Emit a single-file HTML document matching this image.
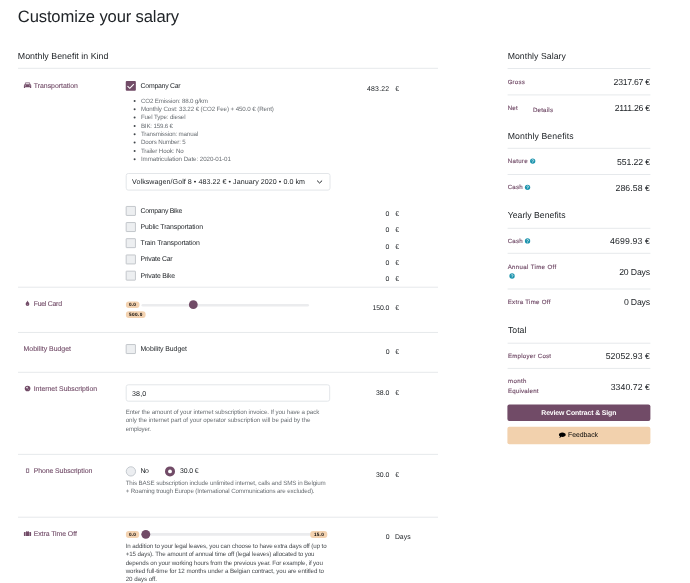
<!DOCTYPE html>
<html><head><meta charset="utf-8"><title>Customize your salary</title>
<style>
*{box-sizing:border-box;margin:0;padding:0}
html,body{width:690px;height:583px;overflow:hidden;background:#fff}
body{font-family:"Liberation Sans",sans-serif;color:#212529;position:relative;-webkit-font-smoothing:antialiased;text-rendering:geometricPrecision}
.a{position:absolute;white-space:pre;line-height:1}
.hr{position:absolute;height:1px;background:#eaecee}
.cb{position:absolute;width:10px;height:9.7px;border:0.7px solid #c2c7cc;background:#eceef1;border-radius:0.6px}
.bd{position:absolute;background:#f3d2b0;border-radius:3px}
.tr{position:absolute;height:2.7px;background:#ebecee;border-radius:1.3px}
.th{position:absolute;width:9px;height:9px;border-radius:50%;background:#714B67}
.q{position:absolute;width:5.2px;height:5.2px;border-radius:50%;background:#1a9bb8;color:#fff;font-size:4.4px;font-weight:700;line-height:5.4px;text-align:center}
</style></head><body>
<div id="w" style="position:absolute;left:0;top:0;width:690px;height:583px;will-change:transform">
<svg style="position:absolute;left:0;top:0" width="690" height="583" viewBox="0 0 690 583">
<rect x="18" y="67.80" width="420" height="1" fill="#e6e9ec"/>
<rect x="18" y="286.70" width="420" height="1" fill="#e6e9ec"/>
<rect x="18" y="331.95" width="420" height="1" fill="#e6e9ec"/>
<rect x="18" y="371.80" width="420" height="1" fill="#e6e9ec"/>
<rect x="18" y="453.85" width="420" height="1" fill="#e6e9ec"/>
<rect x="18" y="516.70" width="420" height="1" fill="#e6e9ec"/>
<rect x="507.6" y="68.00" width="142.8" height="1" fill="#e6e9ec"/>
<rect x="507.6" y="94.40" width="142.8" height="1" fill="#e6e9ec"/>
<rect x="507.6" y="147.80" width="142.8" height="1" fill="#e6e9ec"/>
<rect x="507.6" y="174.00" width="142.8" height="1" fill="#e6e9ec"/>
<rect x="507.6" y="227.80" width="142.8" height="1" fill="#e6e9ec"/>
<rect x="507.6" y="252.80" width="142.8" height="1" fill="#e6e9ec"/>
<rect x="507.6" y="288.50" width="142.8" height="1" fill="#e6e9ec"/>
<rect x="507.6" y="342.70" width="142.8" height="1" fill="#e6e9ec"/>
<rect x="507.6" y="367.90" width="142.8" height="1" fill="#e6e9ec"/>
<circle cx="134.6" cy="100.95" r="1" fill="#41464b"/>
<circle cx="134.6" cy="109.28" r="1" fill="#41464b"/>
<circle cx="134.6" cy="117.61" r="1" fill="#41464b"/>
<circle cx="134.6" cy="125.94" r="1" fill="#41464b"/>
<circle cx="134.6" cy="134.27" r="1" fill="#41464b"/>
<circle cx="134.6" cy="142.60" r="1" fill="#41464b"/>
<circle cx="134.6" cy="150.93" r="1" fill="#41464b"/>
<circle cx="134.6" cy="159.26" r="1" fill="#41464b"/>
<rect x="126.2" y="173.5" width="203.8" height="16.6" rx="2" fill="#fff" stroke="#e3e6e9" stroke-width="1"/>
<rect x="126.2" y="384.8" width="203.5" height="16.4" rx="2" fill="#fff" stroke="#e3e6e9" stroke-width="1"/>
<rect x="126.15" y="206.45" width="9.3" height="9" rx=".4" fill="#edeff1" stroke="#b3b8bd" stroke-width=".75"/>
<rect x="126.15" y="222.55" width="9.3" height="9" rx=".4" fill="#edeff1" stroke="#b3b8bd" stroke-width=".75"/>
<rect x="126.15" y="238.65" width="9.3" height="9" rx=".4" fill="#edeff1" stroke="#b3b8bd" stroke-width=".75"/>
<rect x="126.15" y="254.95" width="9.3" height="9" rx=".4" fill="#edeff1" stroke="#b3b8bd" stroke-width=".75"/>
<rect x="126.15" y="271.15" width="9.3" height="9" rx=".4" fill="#edeff1" stroke="#b3b8bd" stroke-width=".75"/>
<rect x="126.15" y="344.55" width="9.3" height="9" rx=".4" fill="#edeff1" stroke="#b3b8bd" stroke-width=".75"/>
<rect x="141.5" y="303.9" width="167.5" height="2.7" rx="1.35" fill="#ebecee"/>
<rect x="125.9" y="301.5" width="13.6" height="6.5" rx="3" fill="#f3d2b0"/>
<rect x="125.9" y="311.3" width="19.7" height="6.8" rx="3" fill="#f3d2b0"/>
<rect x="141" y="533.1" width="170" height="2.7" rx="1.35" fill="#ebecee"/>
<rect x="125.9" y="531" width="13.3" height="7" rx="3" fill="#f3d2b0"/>
<rect x="310.2" y="531" width="17.1" height="7" rx="3" fill="#f3d2b0"/>
<rect x="507.400" y="404.600" width="143" height="16.500" rx="2" fill="#714B67"/><rect x="507.400" y="426.800" width="143" height="17.400" rx="2" fill="#f2d1ad"/>
<path d="M317.400 180.900 319.600 183 321.800 180.900" stroke="#212529" stroke-width="1" stroke-linecap="round" stroke-linejoin="round" fill="none"/>
<g transform="translate(187.000 299.000) scale(1.0000 1.0000) translate(-187 -299)"><circle cx="193.300" cy="304.700" r="4.400" fill="#714B67"/></g>
<g transform="translate(124.000 465.000) scale(1.0000 1.0000) translate(-124 -465)"><circle cx="130.900" cy="471.400" r="4.650" fill="#eceef1" stroke="#b9bfc5" stroke-width=".8"/><circle cx="170" cy="471.400" r="5" fill="#714B67"/><circle cx="170" cy="471.400" r="1.900" fill="#fff"/></g>
<g transform="translate(140.000 528.000) scale(1.0000 1.0000) translate(-140 -528)"><circle cx="145.800" cy="534.350" r="4.450" fill="#714B67"/></g>
<g transform="translate(528.700 157.050) scale(1.0000 1.0000) translate(4 4)"><circle r="2.650" fill="#1b93ad"/><path d="M-.85 -.65A.9.900 0 1 1 0 .35V.75" stroke="#fff" stroke-width=".6" fill="none"/><circle cy="1.500" r=".36" fill="#fff"/></g>
<g transform="translate(523.550 183.300) scale(1.0000 1.0000) translate(4 4)"><circle r="2.650" fill="#1b93ad"/><path d="M-.85 -.65A.9.900 0 1 1 0 .35V.75" stroke="#fff" stroke-width=".6" fill="none"/><circle cy="1.500" r=".36" fill="#fff"/></g>
<g transform="translate(523.550 236.900) scale(1.0000 1.0000) translate(4 4)"><circle r="2.650" fill="#1b93ad"/><path d="M-.85 -.65A.9.900 0 1 1 0 .35V.75" stroke="#fff" stroke-width=".6" fill="none"/><circle cy="1.500" r=".36" fill="#fff"/></g>
<g transform="translate(508.050 272.000) scale(1.0000 1.0000) translate(4 4)"><circle r="2.650" fill="#1b93ad"/><path d="M-.85 -.65A.9.900 0 1 1 0 .35V.75" stroke="#fff" stroke-width=".6" fill="none"/><circle cy="1.500" r=".36" fill="#fff"/></g>
<g transform="translate(23.900 82.200) scale(0.4867 0.4750) translate(-0 -0)"><path fill="#714B67" d="M3 0.500h9l1.600 4.200c.8.300 1.400 1 1.400 2V12h-2.400v-1.500H2.400V12H0V6.700c0-1 .6-1.700 1.400-2zM3.900 2 3 4.500h9L11.100 2zM2.600 6.200a1 1 0 100 2.100 1 1 0 000-2.100zm9.800 0a1 1 0 100 2.100 1 1 0 000-2.100z"/></g>
<g transform="translate(25.650 300.600) scale(0.4625 0.4417) translate(-0 -0)"><path fill="#714B67" d="M4 0C4.800 3 8 4.800 8 8a4 4 0 01-8 0C0 4.800 3.200 3 4 0z"/><path fill="#b79fb0" d="M4 7.600C3.500 8.400 3 8.900 3 9.700a1 1 0 002 0C5 8.900 4.500 8.400 4 7.600z"/></g>
<g transform="translate(24.200 385.100) scale(0.5600 0.5600) translate(1 1)"><circle cx="5" cy="5" r="5" fill="#714B67"/><path fill="#fff" d="M2.400 2.800 4.400 1.800 5.800 2.600 5.200 3.600 5.600 4.600 4.400 5.200 3.200 4.600 2.200 4z" opacity=".85"/><path fill="#fff" d="M6 5.800 7.600 5.600 7.800 6.800 6.800 7.800z" opacity=".45"/></g>
<g transform="translate(25.900 468.500) scale(1.0000 1.0000) translate(-0 -0)"><rect x=".4" y=".4" width="2.500" height="3.600" fill="none" stroke="#664460" stroke-width=".65"/></g>
<g transform="translate(23.900 530.900) scale(0.5143 0.5200) translate(-0 -0)"><path fill="#714B67" d="M5 0h4a.8.800 0 01.8.800V2H11V10H3V2H4.200V.8A.8.800 0 015 0zM5.200 1V2H8.800V1zM0 3A1 1 0 011 2H2.200V10H1A1 1 0 010 9zM11.800 2H13A1 1 0 0114 3V9A1 1 0 0113 10H11.800z"/></g>
<g transform="translate(558.900 432.400) scale(0.4857 0.5000) translate(-0 -0)"><path fill="#000" d="M7 0C10.900 0 14 2 14 4.500S10.900 9 7 9C6.200 9 5.500 8.900 4.800 8.800 3.800 9.800 2.400 10.600.8 11 1.600 10 2.100 9 2.200 7.900.8 7.100 0 5.900 0 4.500 0 2 3.100 0 7 0z"/></g>
<rect x="125.750" y="81.100" width="10.100" height="9.700" rx="1" fill="#714B67"/><path d="M127.500 86.200 129.800 88.300 133.800 84.100" stroke="#fff" stroke-width="1.100" fill="none"/>
</svg>

<div class="a" style="left:17.80px;top:8.80px;font-size:16.6px;color:#212529;letter-spacing:-0.139px">Customize your salary</div>
<div class="a" style="left:17.80px;top:52.00px;font-size:8.8px;color:#212529;letter-spacing:0.027px">Monthly Benefit in Kind</div>
<div class="a" style="left:33.80px;top:83.70px;font-size:6.9px;color:#714B67;letter-spacing:-0.014px;-webkit-text-stroke:0.1px #714B67">Transportation</div>
<div class="a" style="left:33.70px;top:301.90px;font-size:6.9px;color:#714B67;letter-spacing:-0.243px;-webkit-text-stroke:0.1px #714B67">Fuel Card</div>
<div class="a" style="left:23.60px;top:347.30px;font-size:6.9px;color:#714B67;letter-spacing:0.019px;-webkit-text-stroke:0.1px #714B67">Mobility Budget</div>
<div class="a" style="left:33.70px;top:386.90px;font-size:6.9px;color:#714B67;letter-spacing:0.010px;-webkit-text-stroke:0.1px #714B67">Internet Subscription</div>
<div class="a" style="left:33.70px;top:469.00px;font-size:6.9px;color:#714B67;letter-spacing:-0.072px;-webkit-text-stroke:0.1px #714B67">Phone Subscription</div>
<div class="a" style="left:33.70px;top:532.10px;font-size:6.9px;color:#714B67;letter-spacing:-0.061px;-webkit-text-stroke:0.1px #714B67">Extra Time Off</div>
<div class="a" style="left:140.60px;top:84.00px;font-size:6.9px;color:#212529;letter-spacing:-0.249px">Company Car</div>
<div class="a" style="left:140.90px;top:98.70px;font-size:6.2px;color:#6a6f74;letter-spacing:-0.140px">CO2 Emission: 88.0 g/km</div>
<div class="a" style="left:140.90px;top:107.03px;font-size:6.2px;color:#6a6f74;letter-spacing:-0.100px">Monthly Cost: 33.22 € (CO2 Fee) + 450.0 € (Rent)</div>
<div class="a" style="left:140.90px;top:115.36px;font-size:6.2px;color:#6a6f74;letter-spacing:-0.126px">Fuel Type: diesel</div>
<div class="a" style="left:140.90px;top:123.69px;font-size:6.2px;color:#6a6f74;letter-spacing:-0.171px">BIK: 159.6 €</div>
<div class="a" style="left:140.90px;top:132.02px;font-size:6.2px;color:#6a6f74;letter-spacing:-0.164px">Transmission: manual</div>
<div class="a" style="left:140.90px;top:140.35px;font-size:6.2px;color:#6a6f74;letter-spacing:-0.160px">Doors Number: 5</div>
<div class="a" style="left:140.90px;top:148.68px;font-size:6.2px;color:#6a6f74;letter-spacing:-0.131px">Trailer Hook: No</div>
<div class="a" style="left:140.90px;top:157.01px;font-size:6.2px;color:#6a6f74;letter-spacing:-0.058px">Immatriculation Date: 2020-01-01</div>
<div class="a" style="left:132.10px;top:178.80px;font-size:7.1px;color:#212529;letter-spacing:0.058px">Volkswagen/Golf 8 • 483.22 € • January 2020 • 0.0 km</div>
<div class="a" style="left:140.60px;top:208.80px;font-size:6.9px;color:#212529;letter-spacing:-0.288px">Company Bike</div>
<div class="a" style="left:385.60px;top:212.10px;font-size:6.9px;color:#212529;letter-spacing:0.000px">0</div>
<div class="a" style="left:395.20px;top:212.10px;font-size:6.9px;color:#212529;letter-spacing:0.000px">€</div>
<div class="a" style="left:140.60px;top:225.00px;font-size:6.9px;color:#212529;letter-spacing:-0.114px">Public Transportation</div>
<div class="a" style="left:385.60px;top:228.37px;font-size:6.9px;color:#212529;letter-spacing:0.000px">0</div>
<div class="a" style="left:395.20px;top:228.37px;font-size:6.9px;color:#212529;letter-spacing:0.000px">€</div>
<div class="a" style="left:140.60px;top:241.20px;font-size:6.9px;color:#212529;letter-spacing:-0.113px">Train Transportation</div>
<div class="a" style="left:385.60px;top:244.64px;font-size:6.9px;color:#212529;letter-spacing:0.000px">0</div>
<div class="a" style="left:395.20px;top:244.64px;font-size:6.9px;color:#212529;letter-spacing:0.000px">€</div>
<div class="a" style="left:140.60px;top:257.40px;font-size:6.9px;color:#212529;letter-spacing:-0.245px">Private Car</div>
<div class="a" style="left:385.60px;top:260.91px;font-size:6.9px;color:#212529;letter-spacing:0.000px">0</div>
<div class="a" style="left:395.20px;top:260.91px;font-size:6.9px;color:#212529;letter-spacing:0.000px">€</div>
<div class="a" style="left:140.60px;top:273.60px;font-size:6.9px;color:#212529;letter-spacing:-0.214px">Private Bike</div>
<div class="a" style="left:385.60px;top:277.18px;font-size:6.9px;color:#212529;letter-spacing:0.000px">0</div>
<div class="a" style="left:395.20px;top:277.18px;font-size:6.9px;color:#212529;letter-spacing:0.000px">€</div>
<div class="a" style="left:367.00px;top:86.70px;font-size:6.9px;color:#212529;letter-spacing:0.222px">483.22</div>
<div class="a" style="left:395.20px;top:86.70px;font-size:6.9px;color:#212529;letter-spacing:0.000px">€</div>
<div class="a" style="left:372.50px;top:306.00px;font-size:6.9px;color:#212529;letter-spacing:-0.078px">150.0</div>
<div class="a" style="left:395.20px;top:306.00px;font-size:6.9px;color:#212529;letter-spacing:0.000px">€</div>
<div class="a" style="left:385.70px;top:350.00px;font-size:6.9px;color:#212529;letter-spacing:0.000px">0</div>
<div class="a" style="left:395.20px;top:350.00px;font-size:6.9px;color:#212529;letter-spacing:0.000px">€</div>
<div class="a" style="left:376.00px;top:390.50px;font-size:6.9px;color:#212529;letter-spacing:-0.006px">38.0</div>
<div class="a" style="left:395.20px;top:390.50px;font-size:6.9px;color:#212529;letter-spacing:0.000px">€</div>
<div class="a" style="left:376.00px;top:473.00px;font-size:6.9px;color:#212529;letter-spacing:-0.006px">30.0</div>
<div class="a" style="left:395.20px;top:473.00px;font-size:6.9px;color:#212529;letter-spacing:0.000px">€</div>
<div class="a" style="left:385.70px;top:535.20px;font-size:6.9px;color:#212529;letter-spacing:0.000px">0</div>
<div class="a" style="left:394.90px;top:535.20px;font-size:6.9px;color:#212529;letter-spacing:-0.001px">Days</div>
<div class="a" style="left:140.40px;top:347.30px;font-size:6.9px;color:#212529;letter-spacing:-0.043px">Mobility Budget</div>
<div class="a" style="left:132.10px;top:390.80px;font-size:7.1px;color:#212529;letter-spacing:0.082px">38,0</div>
<div class="a" style="left:125.70px;top:409.90px;font-size:6.2px;color:#6a6f74;letter-spacing:-0.085px">Enter the amount of your internet subscription invoice. If you have a pack</div>
<div class="a" style="left:125.70px;top:418.20px;font-size:6.2px;color:#6a6f74;letter-spacing:-0.039px">only the internet part of your operator subscription will be paid by the</div>
<div class="a" style="left:125.70px;top:426.60px;font-size:6.2px;color:#6a6f74;letter-spacing:-0.192px">employer.</div>
<div class="a" style="left:140.40px;top:469.00px;font-size:6.9px;color:#212529;letter-spacing:-0.475px">No</div>
<div class="a" style="left:180.00px;top:469.00px;font-size:6.9px;color:#212529;letter-spacing:-0.140px">30.0 €</div>
<div class="a" style="left:125.70px;top:480.60px;font-size:6.2px;color:#6a6f74;letter-spacing:-0.113px">This BASE subscription include unlimited internet, calls and SMS in Belgium</div>
<div class="a" style="left:125.70px;top:488.70px;font-size:6.2px;color:#6a6f74;letter-spacing:-0.130px">+ Roaming trough Europe (International Communications are excluded).</div>
<div class="a" style="left:125.70px;top:543.65px;font-size:6.2px;color:#484c50;letter-spacing:-0.100px">In addition to your legal leaves, you can choose to have extra days off (up to</div>
<div class="a" style="left:125.70px;top:552.10px;font-size:6.2px;color:#484c50;letter-spacing:-0.106px">+15 days). The amount of annual time off (legal leaves) allocated to you</div>
<div class="a" style="left:125.70px;top:560.55px;font-size:6.2px;color:#484c50;letter-spacing:-0.113px">depends on your working hours from the previous year. For example, if you</div>
<div class="a" style="left:125.70px;top:569.00px;font-size:6.2px;color:#484c50;letter-spacing:-0.079px">worked full-time for 12 months under a Belgian contract, you are entitled to</div>
<div class="a" style="left:125.70px;top:577.45px;font-size:6.2px;color:#484c50;letter-spacing:-0.051px">20 days off.</div>
<div class="a" style="left:129.00px;top:303.40px;font-size:4.7px;color:#000;font-weight:700;letter-spacing:0.108px">0.0</div>
<div class="a" style="left:129.00px;top:313.40px;font-size:4.7px;color:#000;font-weight:700;letter-spacing:0.415px">500.0</div>
<div class="a" style="left:129.00px;top:533.10px;font-size:4.7px;color:#000;font-weight:700;letter-spacing:0.108px">0.0</div>
<div class="a" style="left:313.90px;top:533.10px;font-size:4.7px;color:#000;font-weight:700;letter-spacing:0.250px">15.0</div>
<div class="a" style="left:507.70px;top:52.00px;font-size:8.7px;color:#212529;letter-spacing:0.054px">Monthly Salary</div>
<div class="a" style="left:507.70px;top:79.60px;font-size:6.1px;color:#714B67;letter-spacing:0.185px;-webkit-text-stroke:0.14px #714B67">Gross</div>
<div class="a" style="left:613.60px;top:78.20px;font-size:8.7px;color:#212529;letter-spacing:-0.265px">2317.67 €</div>
<div class="a" style="left:507.70px;top:105.60px;font-size:6.1px;color:#714B67;letter-spacing:0.286px;-webkit-text-stroke:0.14px #714B67">Net</div>
<div class="a" style="left:532.90px;top:108.00px;font-size:6.1px;color:#714B67;letter-spacing:0.240px;-webkit-text-stroke:0.14px #714B67">Details</div>
<div class="a" style="left:614.80px;top:104.20px;font-size:8.7px;color:#212529;letter-spacing:-0.254px">2111.26 €</div>
<div class="a" style="left:507.70px;top:132.20px;font-size:8.7px;color:#212529;letter-spacing:0.114px">Monthly Benefits</div>
<div class="a" style="left:507.70px;top:159.40px;font-size:6.1px;color:#714B67;letter-spacing:0.328px;-webkit-text-stroke:0.14px #714B67">Nature</div>
<div class="a" style="left:617.10px;top:158.00px;font-size:8.7px;color:#212529;letter-spacing:-0.124px">551.22 €</div>
<div class="a" style="left:507.70px;top:185.40px;font-size:6.1px;color:#714B67;letter-spacing:0.219px;-webkit-text-stroke:0.14px #714B67">Cash</div>
<div class="a" style="left:615.50px;top:183.50px;font-size:8.7px;color:#212529;letter-spacing:0.090px">286.58 €</div>
<div class="a" style="left:507.70px;top:211.20px;font-size:8.7px;color:#212529;letter-spacing:0.018px">Yearly Benefits</div>
<div class="a" style="left:507.70px;top:238.90px;font-size:6.1px;color:#714B67;letter-spacing:0.219px;-webkit-text-stroke:0.14px #714B67">Cash</div>
<div class="a" style="left:609.90px;top:236.90px;font-size:8.7px;color:#212529;letter-spacing:0.170px">4699.93 €</div>
<div class="a" style="left:507.70px;top:264.60px;font-size:6.1px;color:#714B67;letter-spacing:0.345px;-webkit-text-stroke:0.14px #714B67">Annual Time Off</div>
<div class="a" style="left:619.20px;top:267.50px;font-size:8.7px;color:#212529;letter-spacing:-0.165px">20 Days</div>
<div class="a" style="left:507.70px;top:300.40px;font-size:6.1px;color:#714B67;letter-spacing:0.300px;-webkit-text-stroke:0.14px #714B67">Extra Time Off</div>
<div class="a" style="left:624.00px;top:298.40px;font-size:8.7px;color:#212529;letter-spacing:-0.190px">0 Days</div>
<div class="a" style="left:507.90px;top:325.80px;font-size:8.7px;color:#212529;letter-spacing:0.031px">Total</div>
<div class="a" style="left:507.90px;top:353.80px;font-size:6.1px;color:#714B67;letter-spacing:0.267px;-webkit-text-stroke:0.14px #714B67">Employer Cost</div>
<div class="a" style="left:605.70px;top:351.80px;font-size:8.7px;color:#212529;letter-spacing:0.086px">52052.93 €</div>
<div class="a" style="left:507.90px;top:379.30px;font-size:6.1px;color:#714B67;letter-spacing:0.414px;-webkit-text-stroke:0.14px #714B67">month</div>
<div class="a" style="left:507.90px;top:389.40px;font-size:6.1px;color:#714B67;letter-spacing:0.245px;-webkit-text-stroke:0.14px #714B67">Equivalent</div>
<div class="a" style="left:610.70px;top:382.80px;font-size:8.7px;color:#212529;letter-spacing:0.076px">3340.72 €</div>
<div class="a" style="left:541.30px;top:411.00px;font-size:6.9px;color:#fff;font-weight:700;letter-spacing:-0.127px">Review Contract &amp; Sign</div>
<div class="a" style="left:568.00px;top:433.00px;font-size:6.9px;color:#000;letter-spacing:-0.035px">Feedback</div>
</div>
</body></html>
